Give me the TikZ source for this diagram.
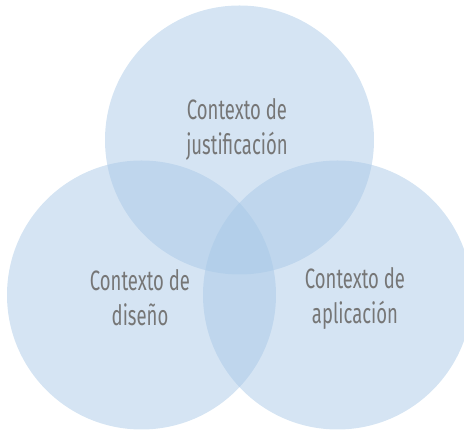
\documentclass[tikz,border=0pt]{standalone}
\usepackage{fontspec}
\setmainfont{Fira Sans}[FakeStretch=0.66]
\definecolor{vennblue}{RGB}{167,199,230}
\definecolor{labelgrey}{RGB}{118,118,118}
\begin{document}
\begin{tikzpicture}[x=1pt,y=1pt,
  venn/.style={circle,fill=vennblue,fill opacity=0.48,draw=none,minimum size=269pt,inner sep=0pt},
  lbl/.style={text=labelgrey,font=\fontsize{28}{35}\selectfont,align=center}]
\useasboundingbox (0,0) rectangle (464,430);
\clip (0,0) rectangle (464,430);
\node[venn] (top) at (239.5,290) {};
\node[venn] (left) at (141.5,135) {};
\node[venn] (right) at (337.5,135) {};
\node[lbl] (toptext) at (237,301) {Contexto de\\justificación};
\node[lbl] (lefttext) at (140,132) {Contexto de\\diseño};
\node[lbl] (righttext) at (355,132) {Contexto de\\aplicación};
\end{tikzpicture}
\end{document}
